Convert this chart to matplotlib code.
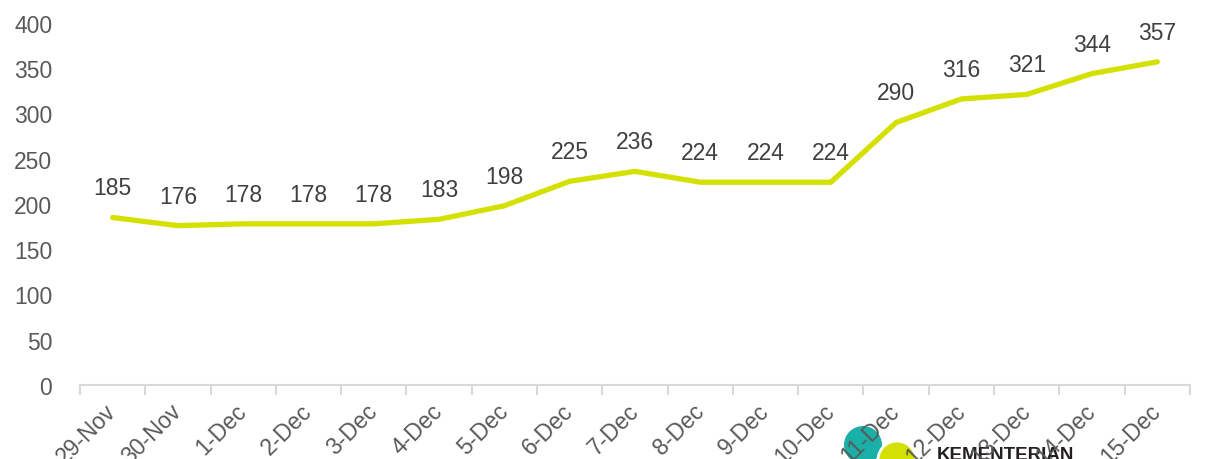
import numpy as np
import matplotlib.pyplot as plt
from matplotlib.patches import Circle
from matplotlib.transforms import IdentityTransform

plt.rcParams['font.family'] = ['Liberation Sans', 'DejaVu Sans']

dates = ["29-Nov", "30-Nov", "1-Dec", "2-Dec", "3-Dec", "4-Dec", "5-Dec", "6-Dec",
         "7-Dec", "8-Dec", "9-Dec", "10-Dec", "11-Dec", "12-Dec", "13-Dec", "14-Dec", "15-Dec"]
values = [185, 176, 178, 178, 178, 183, 198, 225, 236, 224, 224, 224, 290, 316, 321, 344, 357]
yticks = [0, 50, 100, 150, 200, 250, 300, 350, 400]

line_col = '#D4E000'
text_col = '#595959'
axis_col = '#D9D9D9'

fig = plt.figure(figsize=(12.06, 4.6), dpi=100)
ax = fig.add_axes([0.0663, 0.161, 0.9204, 0.787])
ax.set_facecolor('none')

x = np.arange(len(dates))
ax.plot(x, values, color=line_col, lw=3.8, solid_capstyle='round', solid_joinstyle='round')

for xi, v in zip(x, values):
    ax.annotate(str(v), (xi, v), xytext=(0, 13), textcoords='offset points',
                ha='center', va='bottom', fontsize=16.5, color='#404040')

ax.set_xlim(-0.5, len(dates) - 0.5)
ax.set_ylim(0, 400)
ax.set_yticks(yticks)
ax.set_xticks(x)
ax.set_xticklabels(dates, rotation=45, ha='right', rotation_mode='anchor', va='center')
ax.set_xticks(np.arange(-0.5, len(dates)), minor=True)
ax.tick_params(axis='x', which='major', length=0, pad=16, labelsize=16.5, labelcolor=text_col)
ax.tick_params(axis='x', which='minor', length=7, width=1.5, color=axis_col)
ax.tick_params(axis='y', length=0, pad=20, labelsize=16.5, labelcolor=text_col)

for s in ['top', 'right', 'left']:
    ax.spines[s].set_visible(False)
ax.spines['bottom'].set_color(axis_col)
ax.spines['bottom'].set_linewidth(1.5)

# logo watermark at the bottom (pixel coords from bottom-left), under the tick labels
fig.patches.append(Circle((863, 460 - 446), 19, transform=IdentityTransform(),
                          facecolor='#1AB0A8', edgecolor='none', zorder=-1))
fig.patches.append(Circle((897, 460 - 461), 19, transform=IdentityTransform(),
                          facecolor=line_col, edgecolor='white', lw=2, zorder=-1))
fig.text(937 / 1206, (460 - 447) / 460, "KEMENTERIAN", fontsize=13.5, fontweight='bold',
         color='#231F20', va='top', ha='left', zorder=-1)

fig.savefig('out.png', dpi=100)
